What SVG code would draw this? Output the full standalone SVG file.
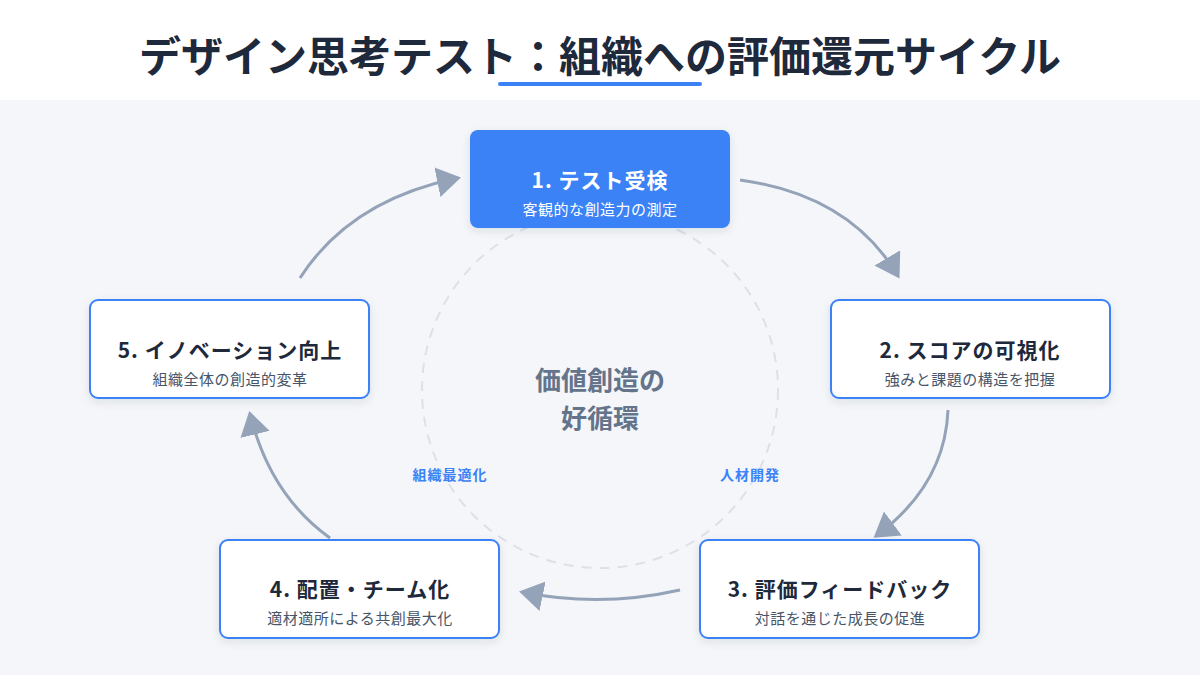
<svg xmlns="http://www.w3.org/2000/svg" width="1200" height="675" viewBox="0 0 1200 675">
<defs>
<marker id="ah" markerWidth="10" markerHeight="10" refX="7" refY="5" orient="auto" markerUnits="strokeWidth"><path d="M0,0 L8,5 L0,10 Z" fill="#94a3b8"/></marker>
<filter id="sh" x="-20%" y="-20%" width="140%" height="150%"><feDropShadow dx="0" dy="3" stdDeviation="4" flood-color="#1e293b" flood-opacity="0.1"/></filter>
<style>
text{font-family:"Noto Sans CJK JP","Noto Sans",sans-serif;text-anchor:middle}
.box{fill:#fff;stroke:#3b82f6;stroke-width:2}
.t{font-size:21px;font-weight:700;fill:#1e293b;letter-spacing:1px}
.s{font-size:15px;fill:#475569;letter-spacing:0.5px}
.c{fill:none;stroke:#94a3b8;stroke-width:3;marker-end:url(#ah)}
.lb{font-size:14px;font-weight:700;fill:#3b82f6;letter-spacing:1px}
</style>
</defs>
<rect width="1200" height="675" fill="#f4f6fa"/>
<rect width="1200" height="100" fill="#fff"/>
<text x="600" y="72" style="font-size:42px;font-weight:700;fill:#1e293b">デザイン思考テスト：組織への評価還元サイクル</text>
<rect x="498" y="82" width="204" height="4" rx="2" fill="#3b82f6"/>
<circle cx="600" cy="390" r="178" fill="none" stroke="#dde1e7" stroke-width="2" stroke-dasharray="10,8"/>
<text x="600" y="390" style="font-size:26px;font-weight:700;fill:#64748b">価値創造の</text>
<text x="600" y="428" style="font-size:26px;font-weight:700;fill:#64748b">好循環</text>
<text x="450" y="480" class="lb">組織最適化</text>
<text x="750" y="480" class="lb">人材開発</text>
<g id="connectors">
<path class="c" d="M740,180 Q850,195 898,276"/>
<path class="c" d="M948,410 Q945,485 876,536"/>
<path class="c" d="M680,590 Q600,608 522,592"/>
<path class="c" d="M330,538 Q270,495 250,414"/>
<path class="c" d="M300,278 Q350,200 458,178"/>
</g>
<g id="n1"><rect x="470" y="130" width="260" height="98" rx="8" fill="#3b82f6" filter="url(#sh)"/>
<text x="600" y="188" class="t" style="fill:#fff">1. テスト受検</text>
<text x="600" y="215" class="s" style="fill:#fff">客観的な創造力の測定</text></g>
<g id="n2"><rect x="831" y="300" width="279" height="98" rx="8" class="box" filter="url(#sh)"/>
<text x="970" y="358" class="t">2. スコアの可視化</text>
<text x="970" y="385" class="s">強みと課題の構造を把握</text></g>
<g id="n3"><rect x="700" y="540" width="279" height="98" rx="8" class="box" filter="url(#sh)"/>
<text x="840" y="597" class="t">3. 評価フィードバック</text>
<text x="840" y="624" class="s">対話を通じた成長の促進</text></g>
<g id="n4"><rect x="220" y="540" width="279" height="98" rx="8" class="box" filter="url(#sh)"/>
<text x="360" y="597" class="t">4. 配置・チーム化</text>
<text x="360" y="624" class="s">適材適所による共創最大化</text></g>
<g id="n5"><rect x="90" y="300" width="279" height="98" rx="8" class="box" filter="url(#sh)"/>
<text x="230" y="358" class="t">5. イノベーション向上</text>
<text x="230" y="385" class="s">組織全体の創造的変革</text></g>
</svg>
